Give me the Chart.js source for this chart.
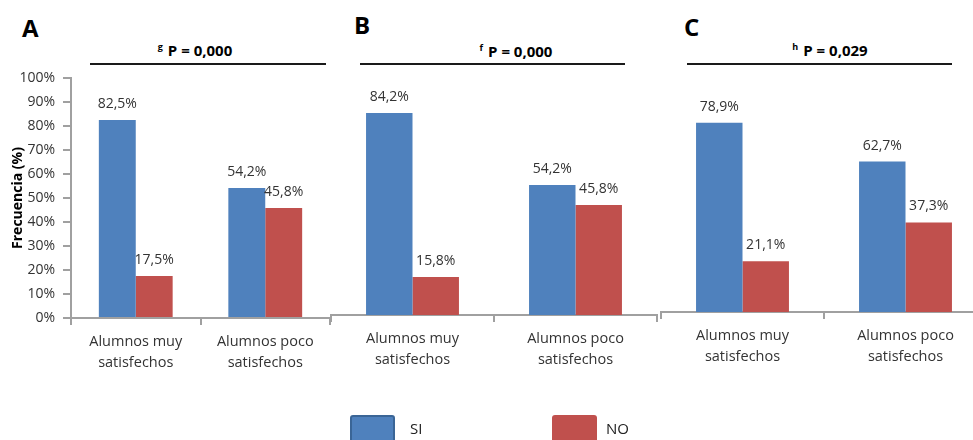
<!DOCTYPE html>
<html>
<head>
<meta charset="utf-8">
<script src="https://cdn.jsdelivr.net/npm/chart.js@4.4.1/dist/chart.umd.min.js"></script>
<style>
  body { margin: 0; width: 973px; height: 440px; overflow: hidden; position: relative; background: #fff; font-family: "Open Sans", sans-serif; color: #1a1a1a; }
  canvas { position: absolute; top: 0; }
  .letter { position: absolute; font-weight: bold; font-size: 24px; line-height: 30px; color: #000; }
  .pval { position: absolute; width: 200px; text-align: center; font-weight: bold; font-size: 15px; line-height: 20px; color: #000; }
  .pval sup { font-size: 9px; vertical-align: 6px; margin-right: 5px; }
  .rule { position: absolute; height: 2px; background: #1a1a1a; }
  .key { position: absolute; top: 415px; width: 45px; height: 30px; border-radius: 3px; box-sizing: border-box; }
  .keytxt { position: absolute; top: 417px; font-size: 15px; line-height: 22px; color: #222; }
</style>
</head>
<body>

<div class="letter" style="left:22px;top:13px">A</div>
<div class="letter" style="left:354px;top:10px">B</div>
<div class="letter" style="left:684px;top:12px">C</div>

<div class="pval" style="left:95px;top:37px"><sup>g</sup>P = 0,000</div>
<div class="pval" style="left:416px;top:38px"><sup>f</sup>P = 0,000</div>
<div class="pval" style="left:730px;top:37px"><sup>h</sup>P = 0,029</div>

<div class="rule" style="left:90px;top:63px;width:236px"></div>
<div class="rule" style="left:360px;top:63px;width:265px"></div>
<div class="rule" style="left:687px;top:63px;width:265px"></div>

<canvas id="chartA" width="340" height="440" style="left:0"></canvas>
<canvas id="chartB" width="340" height="440" style="left:320px"></canvas>
<canvas id="chartC" width="350" height="440" style="left:650px"></canvas>

<div class="key" style="left:350px;background:#4f81bd;border:2px solid #3a6596"></div>
<div class="keytxt" style="left:410px">SI</div>
<div class="key" style="left:552px;background:#c0504d"></div>
<div class="keytxt" style="left:606px">NO</div>

<script>
// categories shared by the three panels
const categories = [['Alumnos muy', 'satisfechos'], ['Alumnos poco', 'satisfechos']];
const seriesNames = ['SI', 'NO'];
const yTicks = [0, 10, 20, 30, 40, 50, 60, 70, 80, 90, 100];

// panel A
const siA = [82.5, 54.2];
const noA = [17.5, 45.8];
// panel B
const siB = [84.2, 54.2];
const noB = [15.8, 45.8];
// panel C
const siC = [78.9, 62.7];
const noC = [21.1, 37.3];

const BLUE = '#4f81bd';
const RED = '#c0504d';
const AXIS = '#a0a0a0';
const TEXT = '#333333';

const fmtPct = v => v.toFixed(1).replace('.', ',') + '%';

// value labels above every bar, placed from the bar elements themselves
const valueLabels = {
    id: 'valueLabels',
    afterDatasetsDraw(chart) {
        const ctx = chart.ctx;
        ctx.save();
        ctx.font = '14px "Open Sans"';
        ctx.fillStyle = TEXT;
        ctx.textAlign = 'center';
        ctx.textBaseline = 'middle';
        chart.data.datasets.forEach((ds, di) => {
            chart.getDatasetMeta(di).data.forEach((bar, i) => {
                ctx.fillText(fmtPct(ds.data[i]), bar.x, bar.y - 16);
            });
        });
        ctx.restore();
    }
};

/**
 * One panel. showY draws the percentage axis (panel A only).
 * pad puts the plot area where the original has it.
 */
function buildPanel(id, si, no, { showY, pad, xHeight }) {
    return new Chart(document.getElementById(id), {
        type: 'bar',
        data: {
            labels: categories,
            datasets: [
                { label: seriesNames[0], data: si, backgroundColor: BLUE, borderWidth: 0 },
                { label: seriesNames[1], data: no, backgroundColor: RED, borderWidth: 0 }
            ]
        },
        options: {
            responsive: false,
            animation: false,
            devicePixelRatio: 1,
            barPercentage: 1,
            categoryPercentage: 0.57,
            layout: { padding: pad },
            plugins: {
                legend: { display: false },
                tooltip: { enabled: false }
            },
            scales: {
                x: {
                    afterFit: s => { s.height = xHeight; },
                    border: { color: AXIS, width: 2 },
                    grid: { offset: true, drawOnChartArea: false, color: AXIS, tickLength: 7, lineWidth: 2 },
                    ticks: {
                        color: TEXT,
                        padding: 7,
                        maxRotation: 0,
                        font: { family: 'Open Sans', size: 14.5, lineHeight: 1.4 }
                    }
                },
                y: {
                    display: showY,
                    min: 0,
                    max: 100,
                    afterBuildTicks: s => { s.ticks = yTicks.map(v => ({ value: v })); },
                    afterFit: s => { if (showY) s.width = 71; },
                    border: { color: AXIS, width: 2 },
                    grid: { drawOnChartArea: false, color: AXIS, tickLength: 8, lineWidth: 2 },
                    ticks: {
                        color: TEXT,
                        padding: 8,
                        font: { family: 'Open Sans', size: 14 },
                        callback: v => v + '%'
                    },
                    title: {
                        display: showY,
                        text: 'Frecuencia (%)',
                        color: '#000',
                        padding: { top: 10 },
                        font: { family: 'Open Sans', size: 14, weight: 'bold' }
                    }
                }
            }
        },
        plugins: [valueLabels]
    });
}

function drawAll() {
    buildPanel('chartA', siA, noA, { showY: true, pad: { left: 0, right: 10, top: 78, bottom: 0 }, xHeight: 122 });
    buildPanel('chartB', siB, noB, { showY: false, pad: { left: 11, right: 3, top: 75, bottom: 0 }, xHeight: 125 });
    buildPanel('chartC', siC, noC, { showY: false, pad: { left: 11, right: 13, top: 72, bottom: 0 }, xHeight: 128 });
}

if (document.fonts && document.fonts.load) {
    Promise.all([
        document.fonts.load('14px "Open Sans"'),
        document.fonts.load('bold 14px "Open Sans"')
    ]).then(drawAll, drawAll);
} else {
    drawAll();
}
</script>
</body>
</html>
